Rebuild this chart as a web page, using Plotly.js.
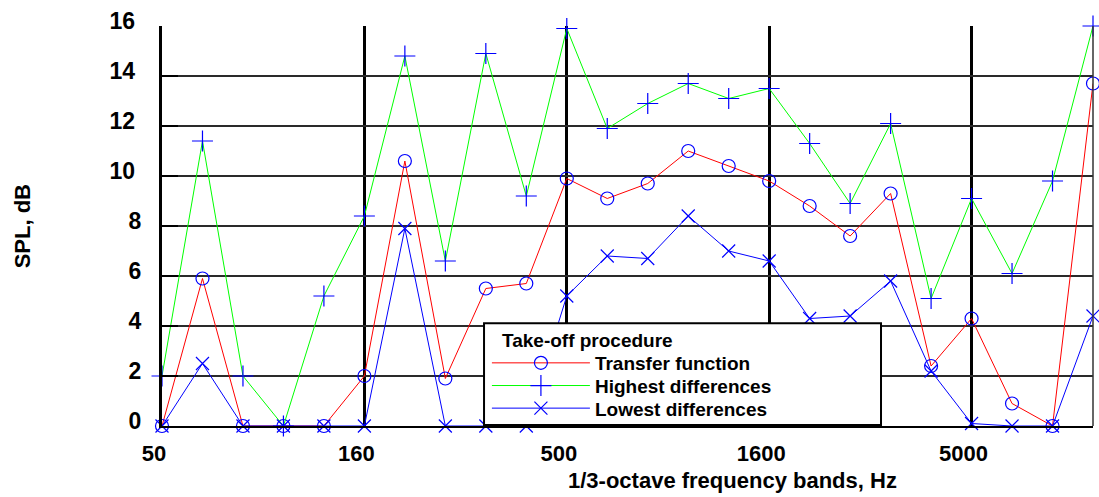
<!DOCTYPE html>
<html>
<head>
<meta charset="utf-8">
<script src="https://cdn.plot.ly/plotly-3.0.1.min.js"></script>
<style>html,body{margin:0;padding:0;background:#fff;}#chart{width:1099px;height:497px;}</style>
</head>
<body>
<div id="chart"></div>
<script>
const bands = ['50','63','80','100','125','160','200','250','315','400','500','630','800','1000','1250','1600','2000','2500','3150','4000','5000','6300','8000','10000'];
const transferFunction = [0, 5.9, 0, 0, 0, 2.0, 10.6, 1.9, 5.5, 5.7, 9.9, 9.1, 9.7, 11.0, 10.4, 9.8, 8.8, 7.6, 9.3, 2.4, 4.3, 0.9, 0, 13.7];
const highestDiff = [2.0, 11.4, 2.0, 0, 5.2, 8.4, 14.8, 6.6, 14.9, 9.2, 15.9, 11.9, 12.9, 13.7, 13.1, 13.5, 11.3, 8.9, 12.1, 5.1, 9.1, 6.1, 9.8, 16.0];
const lowestDiff = [0, 2.5, 0, 0, 0, 0, 7.9, 0, 0, 0, 5.2, 6.8, 6.7, 8.4, 7.0, 6.6, 4.3, 4.4, 5.8, 2.2, 0.1, 0, 0, 4.4];
const xTickLabels = ['50','160','500','1600','5000'];
const yTicks = [0,2,4,6,8,10,12,14,16];
const yTickText = yTicks.map(v => v >= 10 ? v + '\u00a0' : String(v));

const markerBlue = '#0000ff';
const traces = [
  {x: bands, y: transferFunction, name: 'Transfer function', legend: 'legend', type: 'scatter', mode: 'lines+markers', cliponaxis: false,
   line: {color: '#ff0000', width: 1}, marker: {symbol: 'circle-open', size: 13, color: markerBlue, line: {width: 1.2, color: markerBlue}}},
  {x: bands, y: highestDiff, name: 'Highest differences', legend: 'legend2', type: 'scatter', mode: 'lines+markers', cliponaxis: false,
   line: {color: '#00ff00', width: 1}, marker: {symbol: 'cross-thin-open', size: 15, color: markerBlue, line: {width: 1.2, color: markerBlue}}},
  {x: bands, y: lowestDiff, name: 'Lowest differences', legend: 'legend3', type: 'scatter', mode: 'lines+markers', cliponaxis: false,
   line: {color: '#0000ff', width: 1}, marker: {symbol: 'x-thin-open', size: 13, color: markerBlue, line: {width: 1.2, color: markerBlue}}}
];

const fam = 'Liberation Sans, Arial, sans-serif';
const font = {family: fam, size: 22, color: '#000', weight: 'bold'};
const legFont = {family: fam, size: 19, color: '#000', weight: 'bold'};
function leg(y) {
  return {x: 0.349, y: y, xanchor: 'left', yanchor: 'middle', bgcolor: 'rgba(0,0,0,0)', borderwidth: 0,
          font: legFont, itemwidth: 98};
}
const layout = {
  width: 1099, height: 497,
  margin: {l: 162, r: 6, t: 26, b: 71},
  paper_bgcolor: '#fff', plot_bgcolor: '#fff',
  font: font,
  showlegend: true,
  xaxis: {
    type: 'category', range: [0, 23],
    tickmode: 'array', tickvals: xTickLabels, ticktext: xTickLabels,
    showgrid: true, gridcolor: '#000', gridwidth: 3,
    showline: true, linecolor: '#000', linewidth: 2,
    ticks: '', ticklabelshift: -8, ticklabelstandoff: 7,
    tickfont: font, zeroline: false
  },
  yaxis: {
    range: [0, 16], tickvals: yTicks, ticktext: yTickText,
    showgrid: true, gridcolor: '#2a2a2a', gridwidth: 1.6,
    showline: true, linecolor: '#000', linewidth: 3,
    ticks: 'inside', ticklen: 16, tickwidth: 2.5, tickcolor: '#000',
    ticklabelstandoff: 13, ticklabelshift: -5,
    tickfont: {family: fam, size: 23, color: '#000', weight: 'bold'}, zeroline: false
  },
  legend: leg(0.1575),
  legend2: leg(0.1008),
  legend3: leg(0.0443),
  shapes: [
    {type: 'line', xref: 'paper', yref: 'paper', x0: 1, x1: 1, y0: 0, y1: 1, line: {color: '#333', width: 1.5}},
    {type: 'rect', xref: 'paper', yref: 'paper', layer: 'above', x0: 0.3459, x1: 0.7723, y0: 0.0025, y1: 0.2568,
     fillcolor: '#fff', line: {color: '#000', width: 2}}
  ],
  annotations: [
    {text: '1/3-octave frequency bands, Hz', xref: 'paper', yref: 'paper', x: 0.613, y: -0.135,
     xanchor: 'center', yanchor: 'middle', showarrow: false, font: font},
    {text: 'SPL, dB', xref: 'paper', yref: 'paper', x: -0.150, y: 0.5, textangle: -90,
     xanchor: 'center', yanchor: 'middle', showarrow: false, font: font},
    {text: 'Take-off procedure', xref: 'paper', yref: 'paper', x: (500 - 162) / 931, y: 0.2138,
     xanchor: 'left', yanchor: 'middle', showarrow: false, font: legFont}
  ]
};

Plotly.newPlot('chart', traces, layout, {displayModeBar: false, staticPlot: true});
</script>
</body>
</html>
